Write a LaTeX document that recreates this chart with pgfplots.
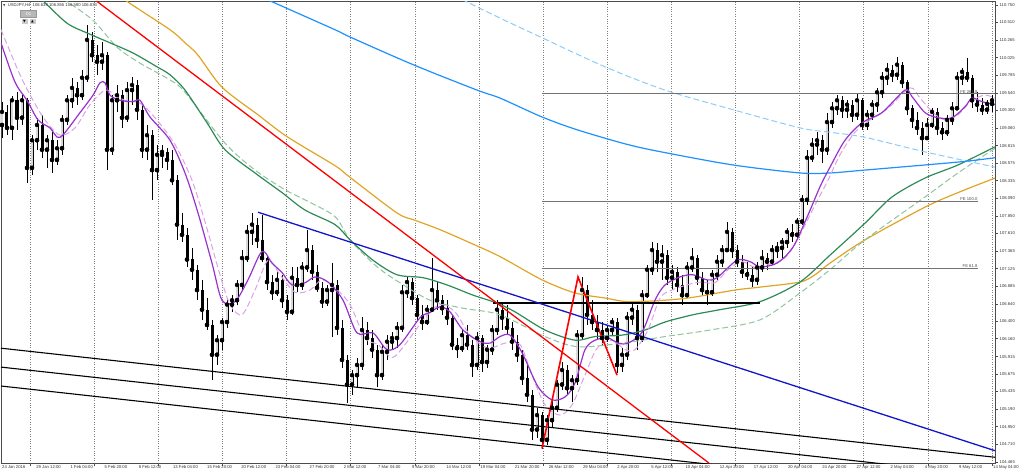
\documentclass[border=0pt]{standalone}
\usepackage{pgfplots}
\usepackage{pgfplotstable}
\pgfplotsset{compat=1.18}
\usepackage{fontspec}
\setmainfont{Liberation Sans}
\newfontfamily\dejavu{DejaVu Sans}
\definecolor{maorange}{HTML}{E0A526}
\definecolor{magreen}{HTML}{2E8B57}
\definecolor{magreenl}{HTML}{8FC49F}
\definecolor{mablue}{HTML}{1E90FF}
\definecolor{mabluel}{HTML}{8CCBFA}
\definecolor{mapurple}{HTML}{9932CC}
\definecolor{mapurplel}{HTML}{D9A3E6}
\definecolor{tlblue}{HTML}{1414C8}
\newcommand{\tinyf}{\fontsize{4.2}{5}\selectfont}

\pgfplotstableread{
x o h l c
2 109.10 109.42 108.92 109.28
7 109.28 109.38 108.96 109.06
12 109.06 109.50 108.89 109.44
17 109.44 109.55 109.03 109.20
22 109.20 109.51 109.10 109.44
27 109.44 109.47 108.30 108.51
32 108.51 108.96 108.41 108.89
37 108.89 109.20 108.76 109.10
42 109.10 109.24 108.65 108.76
47 108.76 108.96 108.51 108.89
52 108.89 109.03 108.44 108.62
57 108.62 108.89 108.55 108.78
62 108.78 109.24 108.69 109.17
67 109.17 109.51 109.10 109.44
72 109.44 109.75 109.33 109.61
77 109.61 109.69 109.38 109.51
82 109.51 109.86 109.44 109.75
87 109.75 110.48 109.69 110.27
92 110.27 110.38 109.97 110.06
97 110.06 110.20 109.79 109.97
102 109.97 110.24 109.86 110.06
107 110.06 110.10 108.48 108.76
112 108.76 109.51 108.69 109.44
117 109.44 109.65 109.28 109.51
122 109.51 109.58 109.06 109.20
127 109.20 109.69 109.14 109.58
132 109.58 109.76 109.38 109.65
137 109.65 109.72 109.17 109.31
142 109.31 109.38 108.65 108.76
147 108.76 109.10 108.62 108.96
152 108.96 109.03 108.07 108.48
157 108.48 108.83 108.34 108.69
162 108.69 108.83 108.51 108.73
167 108.73 108.78 108.48 108.62
172 108.62 108.76 108.28 108.34
177 108.34 108.41 107.52 107.73
182 107.73 107.89 107.49 107.59
187 107.59 107.68 107.14 107.25
192 107.25 107.41 106.97 107.11
197 107.11 107.18 106.69 106.83
202 106.83 106.97 106.42 106.56
207 106.56 106.72 106.28 106.35
212 106.35 106.42 105.59 105.94
217 105.94 106.21 105.80 106.14
222 106.14 106.45 106.01 106.39
227 106.39 106.72 106.31 106.63
232 106.63 106.76 106.53 106.69
237 106.69 106.97 106.63 106.90
242 106.90 107.38 106.83 107.27
247 107.27 107.73 107.22 107.63
252 107.63 107.89 107.45 107.73
257 107.73 107.82 107.41 107.52
262 107.52 107.86 107.22 107.27
267 107.27 107.31 106.83 106.94
272 106.94 107.04 106.69 106.80
277 106.80 107.08 106.75 106.97
282 106.97 107.04 106.58 106.69
287 106.69 106.76 106.42 106.53
292 106.53 107.15 106.49 107.00
297 107.00 107.14 106.80 106.90
302 106.90 107.22 106.83 107.14
307 107.14 107.66 107.08 107.38
312 107.38 107.45 106.97 107.08
317 107.08 107.18 106.80 106.86
322 106.86 106.94 106.58 106.67
327 106.67 106.90 106.61 106.83
332 106.83 107.20 106.19 106.90
337 106.90 106.97 106.21 106.31
342 106.31 106.42 105.76 105.87
347 105.87 105.94 105.28 105.53
352 105.53 105.73 105.39 105.66
357 105.66 105.90 105.48 105.80
362 105.80 106.46 105.73 106.28
367 106.28 106.39 106.08 106.17
372 106.17 106.28 105.90 106.01
377 106.01 106.08 105.50 105.66
382 105.66 106.08 105.59 105.98
387 105.98 106.21 105.87 106.12
392 106.12 106.25 106.01 106.17
397 106.17 106.39 106.03 106.31
402 106.31 106.90 106.25 106.80
407 106.80 107.02 106.72 106.94
412 106.94 107.00 106.63 106.72
417 106.72 106.76 106.42 106.49
422 106.49 106.63 106.28 106.39
427 106.39 106.63 106.35 106.56
432 106.56 107.27 106.53 106.83
437 106.83 106.94 106.56 106.69
442 106.69 106.76 106.49 106.58
447 106.58 106.69 106.35 106.45
452 106.45 106.49 106.01 106.08
457 106.08 106.17 105.90 106.03
462 106.03 106.28 105.98 106.21
467 106.21 106.35 106.01 106.08
472 106.08 106.14 105.64 105.80
477 105.80 106.25 105.73 106.17
482 106.17 106.21 105.70 105.84
487 105.84 106.08 105.76 106.01
492 106.01 106.35 105.94 106.28
497 106.28 106.69 106.21 106.56
502 106.56 106.65 106.28 106.45
507 106.45 106.63 106.21 106.31
512 106.31 106.39 106.01 106.12
517 106.12 106.21 105.84 105.94
522 105.94 106.01 105.53 105.62
527 105.62 105.80 105.29 105.39
532 105.39 105.46 104.77 104.91
537 104.91 105.21 104.80 105.11
542 105.11 105.15 104.65 104.77
547 104.77 105.11 104.70 105.04
552 105.04 105.32 104.93 105.21
557 105.21 105.59 105.15 105.53
562 105.53 105.84 105.46 105.73
567 105.73 105.80 105.39 105.48
572 105.48 105.66 105.29 105.59
577 105.59 106.28 105.53 106.21
582 106.21 107.01 106.14 106.83
587 106.83 106.90 106.35 106.49
592 106.49 106.69 106.28 106.39
597 106.39 106.49 106.14 106.28
602 106.28 106.39 106.08 106.17
607 106.17 106.35 106.12 106.28
612 106.28 106.45 106.21 106.39
617 106.39 106.45 105.69 105.80
622 105.80 106.03 105.70 105.94
627 105.94 106.53 105.87 106.45
632 106.45 106.67 106.35 106.56
637 106.56 106.63 106.01 106.17
642 106.17 106.83 106.12 106.76
647 106.76 107.18 106.72 107.11
652 107.11 107.49 107.04 107.38
657 107.38 107.48 107.08 107.22
662 107.22 107.45 106.97 107.31
667 107.31 107.38 106.90 107.00
672 107.00 107.18 106.83 107.08
677 107.08 107.14 106.80 106.90
682 106.90 107.04 106.63 106.76
687 106.76 107.22 106.72 107.14
692 107.14 107.41 107.08 107.27
697 107.27 107.31 106.90 107.00
702 107.00 107.08 106.76 106.83
707 106.83 106.97 106.63 106.80
712 106.80 107.11 106.75 107.04
717 107.04 107.31 106.97 107.22
722 107.22 107.45 107.14 107.38
727 107.38 107.77 107.36 107.63
732 107.63 107.68 107.27 107.38
737 107.38 107.45 107.14 107.22
742 107.22 107.31 107.00 107.08
747 107.08 107.22 106.97 107.04
752 107.04 107.14 106.87 106.97
757 106.97 107.22 106.90 107.14
762 107.14 107.38 107.08 107.27
767 107.27 107.34 107.11 107.22
772 107.22 107.45 107.18 107.38
777 107.38 107.49 107.27 107.41
782 107.41 107.55 107.27 107.49
787 107.49 107.68 107.41 107.63
792 107.63 107.74 107.49 107.59
797 107.59 107.82 107.52 107.77
802 107.77 108.14 107.73 108.07
807 108.07 108.76 108.00 108.65
812 108.65 108.92 108.59 108.83
817 108.83 109.00 108.69 108.89
822 108.89 108.96 108.58 108.76
827 108.76 109.27 108.69 109.14
832 109.14 109.42 109.06 109.33
837 109.33 109.51 109.24 109.44
842 109.44 109.50 109.20 109.31
847 109.31 109.44 109.20 109.38
852 109.38 109.44 109.14 109.24
857 109.24 109.54 109.17 109.44
862 109.44 109.47 109.03 109.10
867 109.10 109.31 109.03 109.24
872 109.24 109.44 109.17 109.38
877 109.38 109.61 109.28 109.55
882 109.55 109.83 109.47 109.75
887 109.75 109.95 109.65 109.86
892 109.86 109.93 109.69 109.79
897 109.79 110.04 109.72 109.93
902 109.93 109.97 109.61 109.69
907 109.69 109.72 109.24 109.33
912 109.33 109.38 109.06 109.17
917 109.17 109.28 108.96 109.06
922 109.06 109.14 108.69 108.92
927 108.92 109.20 108.89 109.10
932 109.10 109.33 109.06 109.28
937 109.28 109.33 108.96 109.06
942 109.06 109.14 108.89 109.00
947 109.00 109.24 108.95 109.17
952 109.17 109.42 109.10 109.33
957 109.33 109.83 109.31 109.75
962 109.75 109.88 109.65 109.83
967 109.83 110.02 109.69 109.75
972 109.75 109.79 109.33 109.44
977 109.44 109.55 109.28 109.38
982 109.38 109.47 109.24 109.31
987 109.31 109.44 109.25 109.39
992 109.39 109.51 109.28 109.44
}\candles

\begin{document}
\begin{tikzpicture}
\begin{axis}[
  at={(1pt,-1pt)}, anchor=north west,
  width=994pt, height=462pt, scale only axis,
  xmin=1, xmax=995, ymin=104.451, ymax=110.805,
  axis line style={black!70, line width=0.5pt},
  tick style={black!70, line width=0.5pt},
  tick align=outside, major tick length=3pt,
  xtick={30,94.1,158.3,222.4,286.5,350.7,414.8,478.9,543,607.2,671.3,735.4,799.6,863.7,927.8,992},
  xticklabels={},
  xmajorgrids, grid style={dotted, black!50, line width=0.45pt},
  xtick pos=bottom,
  extra x ticks={2,36.2,70.3,104.5,138.7,172.9,207,241.2,275.4,309.5,343.7,377.9,412,446.2,480.4,514.6,548.7,582.9,617.1,651.2,685.4,719.6,753.7,787.9,822.1,856.3,890.4,924.6,958.8,993},
  extra x tick labels={24 Jan 2018,29 Jan 12:00,1 Feb 04:00,5 Feb 20:00,8 Feb 12:00,13 Feb 04:00,15 Feb 20:00,20 Feb 12:00,23 Feb 04:00,27 Feb 20:00,2 Mar 12:00,7 Mar 04:00,9 Mar 20:00,14 Mar 12:00,19 Mar 04:00,21 Mar 20:00,26 Mar 12:00,29 Mar 04:00,2 Apr 20:00,5 Apr 12:00,10 Apr 04:00,12 Apr 20:00,17 Apr 12:00,20 Apr 04:00,24 Apr 20:00,27 Apr 12:00,2 May 04:00,4 May 20:00,9 May 12:00,14 May 04:00},
  extra x tick style={grid=none, major tick length=0pt,
    xticklabel style={anchor=north west, inner sep=0pt, yshift=-2pt, font=\tinyf, text=black!80}},
  ytick={104.465,104.710,104.950,105.190,105.435,105.675,105.915,106.160,106.400,106.640,106.885,107.125,107.365,107.610,107.850,108.090,108.335,108.575,108.815,109.060,109.300,109.540,109.785,110.025,110.265,110.510,110.750},
  yticklabels={104.465,104.710,104.950,105.190,105.435,105.675,105.915,106.160,106.400,106.640,106.885,107.125,107.365,107.610,107.850,108.090,108.335,108.575,108.815,109.060,109.300,109.540,109.785,110.025,110.265,110.510,110.750},
  ytick pos=right, yticklabel pos=right,
  ymajorgrids=false,
  yticklabel style={anchor=west, inner sep=0pt, xshift=1.5pt, font=\tinyf, text=black!80},
]
% wicks
\addplot[only marks, mark=none, forget plot,
  error bars/.cd, y dir=both, y explicit, error mark=none,
  error bar style={line width=0.8pt, black}]
  table[x=x, y=c, y error plus expr=\thisrow{h}-\thisrow{c}, y error minus expr=\thisrow{c}-\thisrow{l}] {\candles};
% bear bodies
\addplot[only marks, mark=none, forget plot,
  restrict expr to domain={\thisrow{o}-\thisrow{c}}{0:100},
  error bars/.cd, y dir=plus, y explicit, error mark=none,
  error bar style={line width=3.0pt, black}]
  table[x=x, y=c, y error expr=\thisrow{o}-\thisrow{c}] {\candles};
% bull bodies
\addplot[only marks, mark=none, forget plot,
  restrict expr to domain={\thisrow{c}-\thisrow{o}}{0:100},
  error bars/.cd, y dir=plus, y explicit, error mark=none,
  error bar style={line width=3.0pt, black}]
  table[x=x, y=o, y error expr=\thisrow{c}-\thisrow{o}] {\candles};
\addplot[only marks, mark=none, forget plot,
  restrict expr to domain={\thisrow{c}-\thisrow{o}}{0:100},
  error bars/.cd, y dir=plus, y explicit, error mark=none,
  error bar style={line width=1.1pt, black!15}]
  table[x=x, y=o, y error expr=\thisrow{c}-\thisrow{o}] {\candles};

% moving averages
\addplot[maorange, line width=1.2pt, smooth] coordinates {(95,111.15)(125,110.82)(170,110.41)(185,110.23)(198,110.06)(222,109.62)(258,109.24)(287,108.94)(335,108.54)(350,108.38)(397,107.89)(415,107.79)(440,107.66)(470,107.48)(500,107.29)(542,106.97)(575,106.79)(605,106.72)(628,106.67)(665,106.69)(693,106.73)(735,106.83)(760,106.87)(800,106.94)(815,107.04)(830,107.20)(865,107.52)(925,107.97)(958,108.17)(995,108.37)};
\addplot[magreenl, line width=1.0pt, dash pattern=on 6pt off 3pt, smooth] coordinates {(50,111.0)(65,110.82)(93,110.54)(117,110.17)(140,109.95)(170,109.72)(185,109.55)(225,108.85)(255,108.48)(285,108.21)(305,108.07)(335,107.84)(350,107.52)(377,107.15)(400,106.93)(430,106.69)(463,106.58)(500,106.49)(545,106.19)(578,106.05)(622,106.10)(665,106.19)(710,106.28)(760,106.42)(800,106.79)(830,107.11)(865,107.52)(925,108.11)(958,108.44)(995,108.78)};
\addplot[magreen, line width=1.2pt, smooth] coordinates {(30,110.95)(42,110.82)(67,110.50)(88,110.36)(110,110.23)(133,110.09)(157,109.90)(170,109.79)(185,109.58)(207,109.13)(225,108.76)(255,108.44)(282,108.17)(305,107.93)(335,107.73)(350,107.52)(373,107.24)(397,107.04)(423,107.00)(447,106.90)(473,106.76)(497,106.65)(515,106.53)(545,106.28)(575,106.14)(595,106.19)(622,106.21)(645,106.28)(665,106.39)(693,106.49)(720,106.56)(760,106.67)(800,106.94)(830,107.31)(865,107.75)(892,108.11)(925,108.37)(958,108.55)(995,108.80)};
\addplot[mabluel, line width=1.0pt, dash pattern=on 6pt off 3pt, smooth] coordinates {(430,111.05)(463,110.82)(500,110.57)(542,110.30)(605,109.90)(665,109.58)(733,109.31)(800,109.06)(830,109.00)(865,108.93)(925,108.73)(995,108.52)};
\addplot[mablue, line width=1.2pt, smooth] coordinates {(240,111.0)(268,110.82)(335,110.41)(350,110.31)(413,109.93)(477,109.58)(500,109.47)(542,109.21)(578,109.03)(628,108.83)(665,108.72)(733,108.55)(800,108.44)(830,108.44)(865,108.48)(958,108.59)(995,108.65)};
\addplot[mapurplel, line width=1.0pt, dash pattern=on 6pt off 3pt, smooth] coordinates {(1,110.41)(20,109.79)(33,109.44)(45,109.17)(60,108.96)(75,109.06)(90,109.38)(105,109.58)(115,109.51)(125,109.44)(140,109.40)(155,109.20)(175,108.83)(192,108.34)(205,107.77)(220,107.04)(230,106.63)(242,106.49)(255,106.83)(268,107.24)(280,107.04)(295,106.80)(310,106.83)(322,106.97)(335,106.86)(350,106.63)(365,106.17)(378,106.08)(392,105.90)(405,106.08)(425,106.45)(440,106.63)(455,106.53)(470,106.21)(488,106.03)(505,106.10)(520,106.08)(532,105.66)(545,105.25)(560,105.11)(572,105.25)(585,105.66)(597,106.03)(612,106.14)(625,106.01)(635,106.01)(648,106.28)(660,106.72)(672,106.83)(687,106.90)(700,106.94)(715,106.93)(728,107.11)(742,107.22)(755,107.14)(768,107.18)(785,107.27)(800,107.59)(815,108.00)(828,108.34)(840,108.69)(855,109.00)(870,109.17)(888,109.33)(910,109.61)(920,109.47)(933,109.27)(945,109.17)(958,109.24)(972,109.44)(985,109.51)(995,109.47)};
\addplot[mapurple, line width=1.2pt, smooth] coordinates {(1,110.23)(15,109.69)(27,109.44)(38,109.17)(50,109.06)(60,108.93)(80,109.27)(93,109.51)(100,109.68)(105,109.68)(110,109.51)(120,109.44)(133,109.42)(140,109.44)(150,109.21)(170,108.89)(185,108.44)(198,107.89)(212,107.20)(222,106.69)(235,106.67)(248,106.97)(262,107.36)(272,107.20)(282,107.07)(292,106.90)(305,106.93)(315,107.01)(328,106.94)(343,106.69)(357,106.24)(373,106.24)(387,106.01)(400,106.08)(420,106.45)(430,106.52)(440,106.60)(450,106.53)(463,106.28)(480,106.12)(490,106.10)(500,106.19)(510,106.21)(522,105.97)(538,105.50)(552,105.32)(565,105.36)(575,105.55)(585,106.01)(595,106.14)(608,106.17)(618,106.10)(628,106.10)(642,106.25)(655,106.69)(665,106.90)(680,107.01)(693,107.04)(707,106.97)(717,107.00)(737,107.24)(750,107.22)(760,107.15)(777,107.20)(793,107.42)(807,107.83)(820,108.25)(830,108.52)(845,108.89)(862,109.13)(882,109.27)(905,109.58)(912,109.49)(925,109.27)(938,109.20)(952,109.20)(965,109.35)(972,109.47)(982,109.42)(995,109.38)};

% horizontal objects
\addplot[black!55, line width=0.8pt] coordinates {(542,109.53)(995,109.53)};
\addplot[black!55, line width=0.8pt] coordinates {(542,108.05)(978,108.05)};
\addplot[black!55, line width=0.8pt] coordinates {(542,107.13)(978,107.13)};
\addplot[black, line width=1.8pt] coordinates {(493,106.655)(760,106.655)};
\node[anchor=south east, font=\tinyf, text=black!70, inner sep=0.4pt] at (axis cs:978,109.53) {FE 261.8};
\node[anchor=south east, font=\tinyf, text=black!70, inner sep=0.4pt] at (axis cs:978,108.05) {FE 100.0};
\node[anchor=south east, font=\tinyf, text=black!70, inner sep=0.4pt] at (axis cs:978,107.13) {FE 61.8};

% channel lines
\addplot[black, line width=1.1pt] coordinates {(1,106.03)(995,104.53)};
\addplot[black, line width=1.1pt] coordinates {(1,105.77)(995,104.27)};
\addplot[black, line width=1.1pt] coordinates {(1,105.51)(995,104.00)};
% trend lines
\addplot[tlblue, line width=1.3pt] coordinates {(258,107.90)(995,104.62)};
\addplot[red, line width=1.3pt] coordinates {(95,110.82)(709,104.45)};
\addplot[red, line width=1.6pt] coordinates {(542,104.65)(578,107.01)(617,105.66)};
\end{axis}
% header
\node[anchor=west, font=\tinyf, text=black!80, inner sep=0pt] at (3pt,-5pt) {{\dejavu\fontsize{3}{3}\selectfont ▼}\ \ USDJPY,H4\ \ 106.634\ 106.855\ 106.590\ 106.833};
\node[fill=black!28, draw=black!40, line width=0.3pt, minimum width=16pt, minimum height=7pt, inner sep=0pt, font=\tinyf, text=white] at (28.5pt,-14pt) {D1};
\node[fill=black!20, minimum width=6pt, minimum height=5.5pt, inner sep=0pt, font=\dejavu\fontsize{3.5}{3.5}\selectfont] at (24.5pt,-21.5pt) {▼};
\node[fill=black!20, minimum width=6pt, minimum height=5.5pt, inner sep=0pt, font=\dejavu\fontsize{3.5}{3.5}\selectfont] at (32.5pt,-21.5pt) {▲};
\pgfresetboundingbox
\path[use as bounding box] (0,0) rectangle (1024pt,-475pt);
\end{tikzpicture}
\end{document}
